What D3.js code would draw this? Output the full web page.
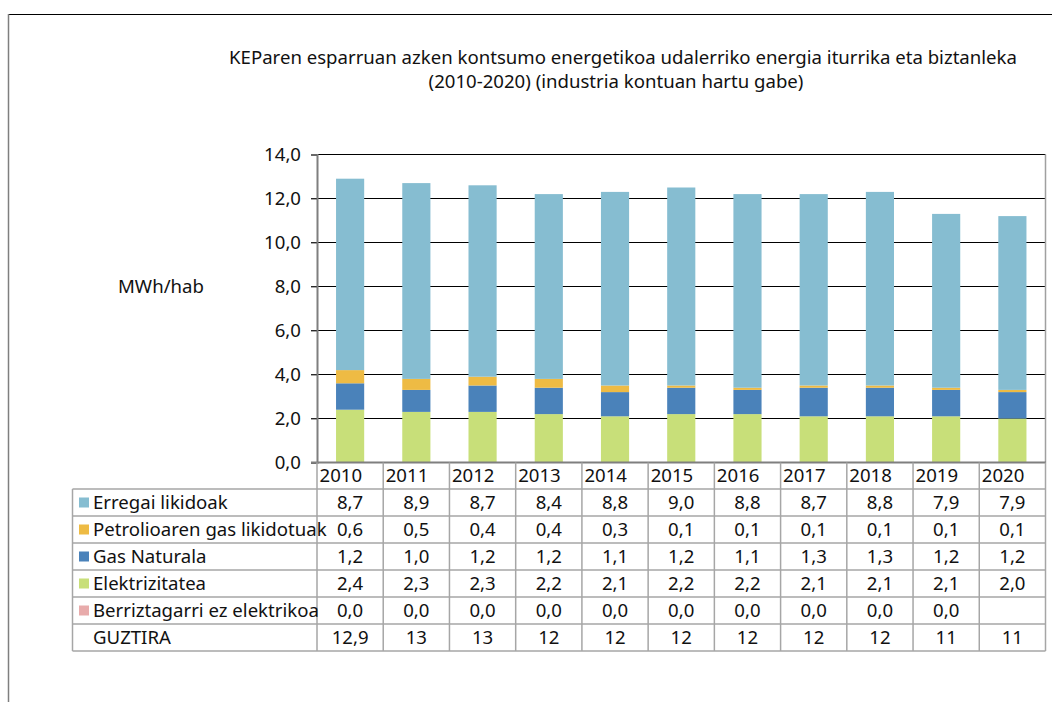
<!DOCTYPE html>
<html>
<head>
<meta charset="utf-8">
<script src="https://cdn.jsdelivr.net/npm/d3@7"></script>
<style>
  html, body { margin: 0; padding: 0; background: #fff; }
  svg { display: block; font-family: "Noto Sans", "Open Sans", sans-serif; }
</style>
</head>
<body>
<svg id="chart" width="1052" height="702"></svg>
<script>
// Years (categories) and per-capita consumption by source, MWh/hab
const years = ["2010","2011","2012","2013","2014","2015","2016","2017","2018","2019","2020"];
const erregaiLikidoak   = [8.7, 8.9, 8.7, 8.4, 8.8, 9.0, 8.8, 8.7, 8.8, 7.9, 7.9];
const petrolioGasa      = [0.6, 0.5, 0.4, 0.4, 0.3, 0.1, 0.1, 0.1, 0.1, 0.1, 0.1];
const gasNaturala       = [1.2, 1.0, 1.2, 1.2, 1.1, 1.2, 1.1, 1.3, 1.3, 1.2, 1.2];
const elektrizitatea    = [2.4, 2.3, 2.3, 2.2, 2.1, 2.2, 2.2, 2.1, 2.1, 2.1, 2.0];
const berriztagarri     = [0.0, 0.0, 0.0, 0.0, 0.0, 0.0, 0.0, 0.0, 0.0, 0.0, null];
const guztira           = ["12,9","13","13","12","12","12","12","12","12","11","11"];
const yTicks            = [0, 2, 4, 6, 8, 10, 12, 14];

const series = [
  { name: "Erregai likidoak",            values: erregaiLikidoak, color: "#86bdd1" },
  { name: "Petrolioaren gas likidotuak", values: petrolioGasa,    color: "#eebb44" },
  { name: "Gas Naturala",                values: gasNaturala,     color: "#4a82ba" },
  { name: "Elektrizitatea",              values: elektrizitatea,  color: "#c8df79" },
  { name: "Berriztagarri ez elektrikoa", values: berriztagarri,   color: "#e8abab" }
];
// stacking order, bottom to top
const stackOrder = ["Elektrizitatea", "Gas Naturala", "Petrolioaren gas likidotuak", "Erregai likidoak", "Berriztagarri ez elektrikoa"];

const FS = 18.6;
const svg = d3.select("#chart");
const plotLeft = 317, plotRight = 1045.5, plotTop = 154.5, plotBottom = 462.5;

// outer frame (top and left edges)
svg.append("line").attr("x1", 8).attr("x2", 1052).attr("y1", 14.5).attr("y2", 14.5)
  .attr("stroke", "#000").attr("stroke-width", 1);
svg.append("line").attr("x1", 8.5).attr("x2", 8.5).attr("y1", 14).attr("y2", 702)
  .attr("stroke", "#7f7f7f").attr("stroke-width", 1.5);

// title
const title = svg.append("text").attr("text-anchor", "middle").attr("font-size", FS).attr("fill", "#111");
title.append("tspan").attr("x", 623).attr("y", 64).text("KEParen esparruan azken kontsumo energetikoa udalerriko energia iturrika eta biztanleka");
title.append("tspan").attr("x", 616).attr("y", 88).text("(2010-2020) (industria kontuan hartu gabe)");

// y axis title
svg.append("text").attr("x", 118).attr("y", 293).attr("font-size", FS).attr("fill", "#111").text("MWh/hab");

const y = d3.scaleLinear().domain([0, 14]).range([plotBottom, plotTop]);
const xCol = d3.scaleBand().domain(years).range([plotLeft, plotRight]).padding(0);
const xBar = d3.scaleBand().domain(years).range([plotLeft, plotRight]).paddingInner(0.575).paddingOuter(0.2875);

// gridlines
svg.append("g").selectAll("line").data(yTicks.filter(d => d > 0)).join("line")
  .attr("x1", plotLeft - 6).attr("x2", plotRight)
  .attr("y1", d => y(d)).attr("y2", d => y(d))
  .attr("stroke", "#000").attr("stroke-width", 1);

// y axis with comma decimals
const yAxis = d3.axisLeft(y).tickValues(yTicks).tickSize(6).tickPadding(10)
  .tickFormat(d => d3.format(".1f")(d).replace(".", ","));
const gy = svg.append("g").attr("transform", `translate(${plotLeft},0)`).call(yAxis);
gy.select(".domain").attr("stroke", "#7f7f7f").attr("stroke-width", 2);
gy.selectAll(".tick line").attr("stroke", "#555");
gy.selectAll(".tick text").attr("font-size", FS).attr("fill", "#111").attr("font-family", "Noto Sans, sans-serif");

// stacked bars
const rows = years.map((yr, i) => {
  const o = { year: yr };
  series.forEach(s => { o[s.name] = s.values[i] == null ? 0 : s.values[i]; });
  return o;
});
const stacked = d3.stack().keys(stackOrder)(rows);
const colorOf = Object.fromEntries(series.map(s => [s.name, s.color]));
svg.append("g").selectAll("g").data(stacked).join("g")
  .attr("fill", d => colorOf[d.key])
  .selectAll("rect").data(d => d).join("rect")
  .attr("x", d => xBar(d.data.year))
  .attr("width", xBar.bandwidth())
  .attr("y", d => y(d[1]))
  .attr("height", d => Math.max(0, y(d[0]) - y(d[1])));

// plot right edge and bottom axis line
svg.append("line").attr("x1", plotRight).attr("x2", plotRight).attr("y1", plotTop).attr("y2", plotBottom)
  .attr("stroke", "#a0a0a0").attr("stroke-width", 1.5);
svg.append("line").attr("x1", plotLeft - 6).attr("x2", plotRight + 0.5).attr("y1", plotBottom).attr("y2", plotBottom)
  .attr("stroke", "#7f7f7f").attr("stroke-width", 2);

// data table
const tableLeft = 72.5, headerBottom = 489, rowH = 27;
const gridColor = "#a6a6a6";
const tbl = svg.append("g");
const tableRows = [...series.map(s => ({ name: s.name, color: s.color, cells: s.values.map(v => v == null ? "" : d3.format(".1f")(v).replace(".", ",")) })),
  { name: "GUZTIRA", color: null, cells: guztira }];
const tableBottom = headerBottom + rowH * tableRows.length;

// header: year labels
tbl.selectAll("text.year").data(years).join("text").attr("class", "year")
  .attr("x", d => xCol(d) + 2.5).attr("y", 482).attr("font-size", FS).attr("fill", "#111").text(d => d);

// horizontal rules
d3.range(tableRows.length + 1).forEach(i => {
  tbl.append("line").attr("x1", tableLeft).attr("x2", plotRight)
    .attr("y1", headerBottom + i * rowH).attr("y2", headerBottom + i * rowH)
    .attr("stroke", gridColor).attr("stroke-width", 1.5);
});
// vertical rules
tbl.append("line").attr("x1", tableLeft).attr("x2", tableLeft).attr("y1", headerBottom).attr("y2", tableBottom)
  .attr("stroke", gridColor).attr("stroke-width", 1.5);
years.concat(["end"]).forEach((yr, i) => {
  const x = i < years.length ? xCol(yr) : plotRight;
  tbl.append("line").attr("x1", x).attr("x2", x).attr("y1", plotBottom).attr("y2", tableBottom)
    .attr("stroke", gridColor).attr("stroke-width", 1.5);
});

tableRows.forEach((r, i) => {
  const cy = headerBottom + i * rowH + rowH / 2;
  if (r.color) {
    tbl.append("rect").attr("x", 79).attr("y", cy - 5).attr("width", 10).attr("height", 10).attr("fill", r.color);
  }
  tbl.append("text").attr("x", 93).attr("y", cy + 6.5).attr("font-size", FS).attr("fill", "#111").text(r.name);
  r.cells.forEach((c, j) => {
    tbl.append("text").attr("x", xCol(years[j]) + xCol.bandwidth() / 2).attr("y", cy + 6.5)
      .attr("text-anchor", "middle").attr("font-size", FS).attr("fill", "#111").text(c);
  });
});
</script>
</body>
</html>
